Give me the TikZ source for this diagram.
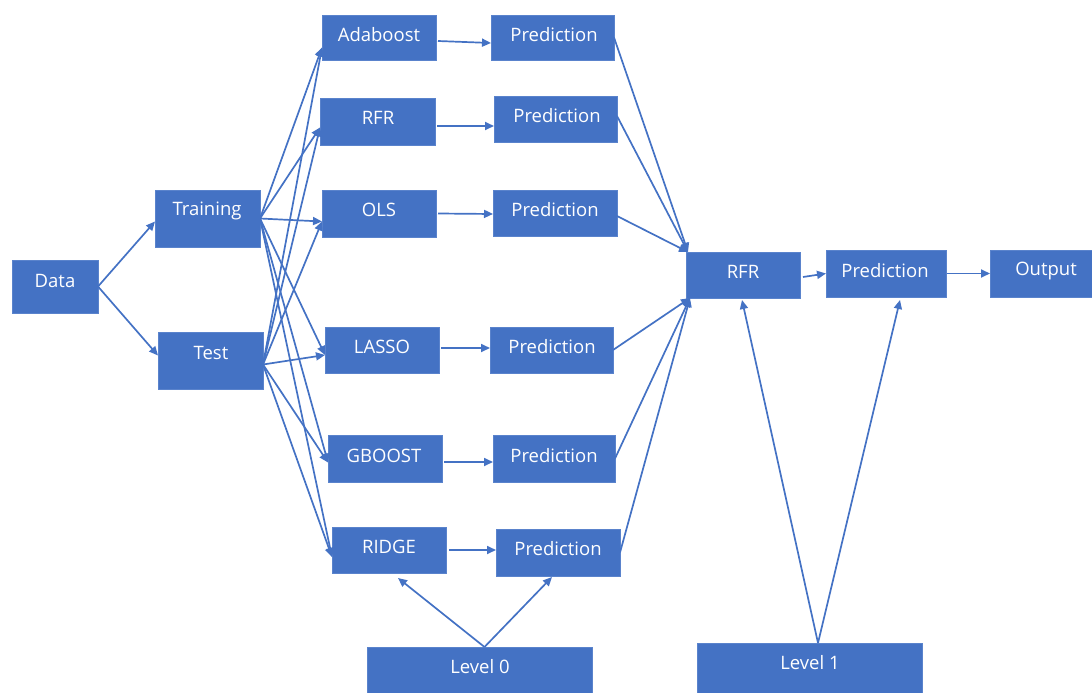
\documentclass[tikz,border=0pt]{standalone}
\usepackage{fontspec}
\setmainfont{Open Sans}
\usetikzlibrary{arrows.meta}
\definecolor{bblue}{HTML}{4472C4}
\definecolor{bedge}{HTML}{5A83CC}
\newcommand\bx[8]{%
  \node[box, minimum width={(#4-#2)*1pt}, minimum height={(#5-#3)*1pt}] (#1) at ({(#2+#4)/2},{(#3+#5)/2}) {};
  \node[txt] (#1-t) at (#8,#7) {#6};}
\begin{document}
\begin{tikzpicture}[x=1pt,y=-1pt,
  box/.style={draw=bedge, line width=0.6pt, fill=bblue, inner sep=0pt, outer sep=0pt},
  txt/.style={text=white, font=\fontsize{18.5}{21}\selectfont, inner sep=0pt},
  conn/.style={draw=bblue, line width=1.7pt, -{Triangle[length=9pt,width=8pt]}}]
\useasboundingbox (0,0) rectangle (1092,693);
\bx{data}{12}{260}{98}{313}{Data}{281}{55}
\bx{train}{155}{190}{260}{247}{Training}{211}{207}
\bx{test}{158}{332}{263}{389}{Test}{353}{211}
\bx{ada}{322}{15}{436}{60}{Adaboost}{35}{379}
\bx{rfr}{320}{98}{435}{145}{RFR}{118}{378}
\bx{ols}{322}{190}{436}{237}{OLS}{210}{379}
\bx{lasso}{325}{327}{439}{373}{LASSO}{347}{382}
\bx{gb}{328}{435}{442}{482}{GBOOST}{456}{384}
\bx{ridge}{332}{527}{446}{573}{RIDGE}{547}{389}
\bx{pa}{491}{15}{614}{60}{Prediction}{35}{554}
\bx{pb}{494}{96}{617}{142}{Prediction}{116}{557}
\bx{pc}{493}{190}{617}{236}{Prediction}{210}{555}
\bx{pd}{490}{327}{613}{373}{Prediction}{347}{552}
\bx{pe}{493}{435}{615}{482}{Prediction}{456}{554}
\bx{pf}{496}{529}{620}{576}{Prediction}{549}{558}
\bx{rfrb}{686}{252}{800}{298}{RFR}{272}{743}
\bx{pfin}{826}{250}{946}{297}{Prediction}{271}{885}
\bx{out}{990}{250}{1092}{297}{Output}{271}{1046}
\bx{lz}{367}{647}{592}{700}{Level 0}{667}{480}
\bx{lo}{697}{643}{922}{700}{Level 1}{663}{810}
% Data to Training / Test
\draw[conn] (data.east) -- ([yshift=-3pt]train.west);
\draw[conn] (data.east) -- ([yshift=5pt]test.west);
% Training and Test to models
\foreach \m/\s in {ada/-10, rfr/-6, ols/-8, lasso/-5, gb/-4, ridge/-7}{
  \draw[conn] (train.east) -- ([yshift=\s pt]\m.west);
  \draw[conn] ([yshift=-4pt]test.east) -- ([yshift=\s pt]\m.west);
}
% models to predictions
\draw[conn] ([xshift=2pt,yshift=-3.5pt]ada.east) -- ([yshift=-5.5pt]pa.west);
\draw[conn] ([xshift=2pt,yshift=-4.5pt]rfr.east) -- ([yshift=-7pt]pb.west);
\draw[conn] ([xshift=2pt]ols.east) -- ([yshift=-1pt]pc.west);
\draw[conn] ([xshift=2pt,yshift=2pt]lasso.east) -- ([yshift=2pt]pd.west);
\draw[conn] ([xshift=2pt,yshift=-3.5pt]gb.east) -- ([yshift=-3.5pt]pe.west);
\draw[conn] ([xshift=3pt]ridge.east) -- ([yshift=2.5pt]pf.west);
% predictions to level-1 RFR
\draw[conn] (pa.east) -- ([xshift=2pt]rfrb.north west);
\draw[conn] ([yshift=3pt]pb.east) -- ([xshift=2pt]rfrb.north west);
\draw[conn] ([yshift=-3pt]pc.east) -- ([xshift=2pt]rfrb.north west);
\draw[conn] (pd.east) -- ([xshift=4pt]rfrb.south west);
\draw[conn] (pe.east) -- ([xshift=4pt]rfrb.south west);
\draw[conn] (pf.east) -- ([xshift=4pt]rfrb.south west);
% level 1 chain
\draw[conn] ([xshift=3pt,yshift=-2pt]rfrb.east) -- (pfin.west);
\draw[conn] ([xshift=1pt]pfin.east) -- (out.west);
% level markers
\draw[conn] ([xshift=5pt]lz.north) -- ([xshift=9pt,yshift=-5pt]ridge.south);
\draw[conn] ([xshift=5pt]lz.north) -- ([xshift=-6pt,yshift=-1pt]pf.south);
\draw[conn] ([xshift=8.5pt]lo.north) -- ([xshift=-1pt,yshift=-2pt]rfrb.south);
\draw[conn] ([xshift=8.5pt]lo.north) -- ([xshift=14pt,yshift=-3pt]pfin.south);
\end{tikzpicture}
\end{document}
